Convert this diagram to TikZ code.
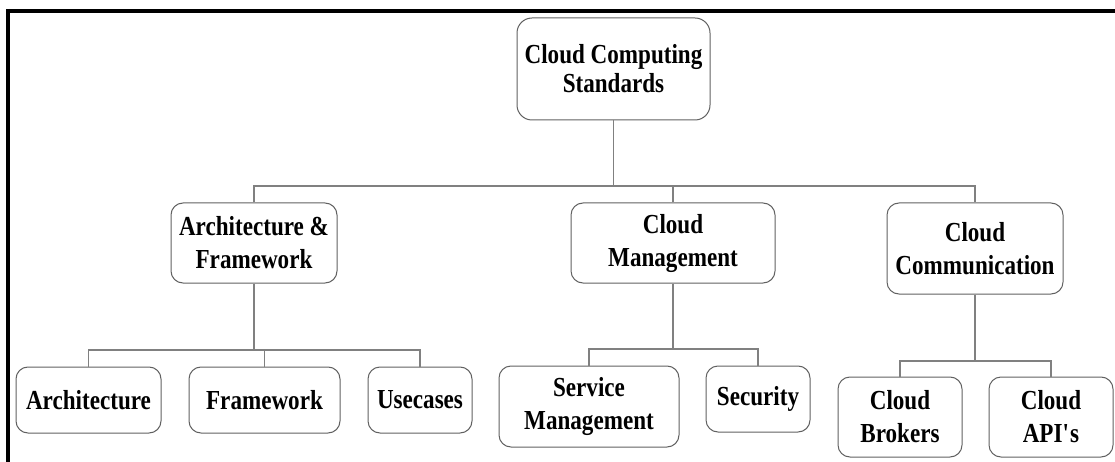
\documentclass[tikz,border=0pt]{standalone}
\usepackage{fontspec}
\setmainfont{Liberation Serif}[FakeStretch=0.84]
\usetikzlibrary{calc}
\begin{document}
\begin{tikzpicture}[x=1pt,y=-1pt,
  box/.style={draw=black!62, line width=1pt, rounded corners=12pt, fill=white,
    align=center, inner sep=0pt, text=black,
    font=\fontsize{27.5}{33}\selectfont\bfseries},
  link/.style={draw=black!50, line width=1.3pt}]
\useasboundingbox (0,0) rectangle (1115,462);
\clip (0,0) rectangle (1115,462);
\fill[white] (0,0) rectangle (1115,462);
% outer frame, running off the right and bottom edges
\draw[line width=4pt] (8,11) -- (1130,11);
\draw[line width=4pt] (8,9) -- (8,480);

% top level
\node[box, minimum width=193, minimum height=102, rounded corners=15pt,
  font=\fontsize{27.5}{29}\selectfont\bfseries] (root) at (613.5,69)
  {Cloud Computing\\Standards};

% second level
\node[box, minimum width=166, minimum height=80] (af) at (254,243) {Architecture \&\\Framework};
\node[box, minimum width=204, minimum height=80] (cm) at (673,243) {Cloud\\Management};
\node[box, minimum width=176, minimum height=91] (cc) at (975,248.5) {Cloud\\Communication};

% third level
\node[box, minimum width=145, minimum height=66] (arch) at (88.5,400) {Architecture};
\node[box, minimum width=151, minimum height=66] (fw) at (264.5,400) {Framework};
\node[box, minimum width=104, minimum height=66] (uc) at (420,400) {Usecases};
\node[box, minimum width=180, minimum height=81] (sm) at (589,406.5) {Service\\Management};
\node[box, minimum width=104, minimum height=66] (sec) at (758,399) {Security};
\node[box, minimum width=124, minimum height=80] (cb) at (900,417) {Cloud\\Brokers};
\node[box, minimum width=124, minimum height=80] (api) at (1051,417) {Cloud\\API\textquotesingle s};

% bus junctions
\coordinate (j0) at (613.5,186);
\coordinate (j1) at (254,350);
\coordinate (j2) at (673,349);
\coordinate (j3) at (975,361);

% connectors
\draw[link] (root.south) -- (j0);
\draw[link] (af.north) |- (j0) -| (cc.north);
\draw[link] (cm.north) -- (cm.north |- j0);

\draw[link] (af.south) -- (j1);
\draw[link] (arch.north) |- (j1) -| (uc.north);
\draw[link] (fw.north) -- (fw.north |- j1);

\draw[link] (cm.south) -- (j2);
\draw[link] (sm.north) |- (j2) -| (sec.north);

\draw[link] (cc.south) -- (j3);
\draw[link] (cb.north) |- (j3) -| (api.north);
\end{tikzpicture}
\end{document}
